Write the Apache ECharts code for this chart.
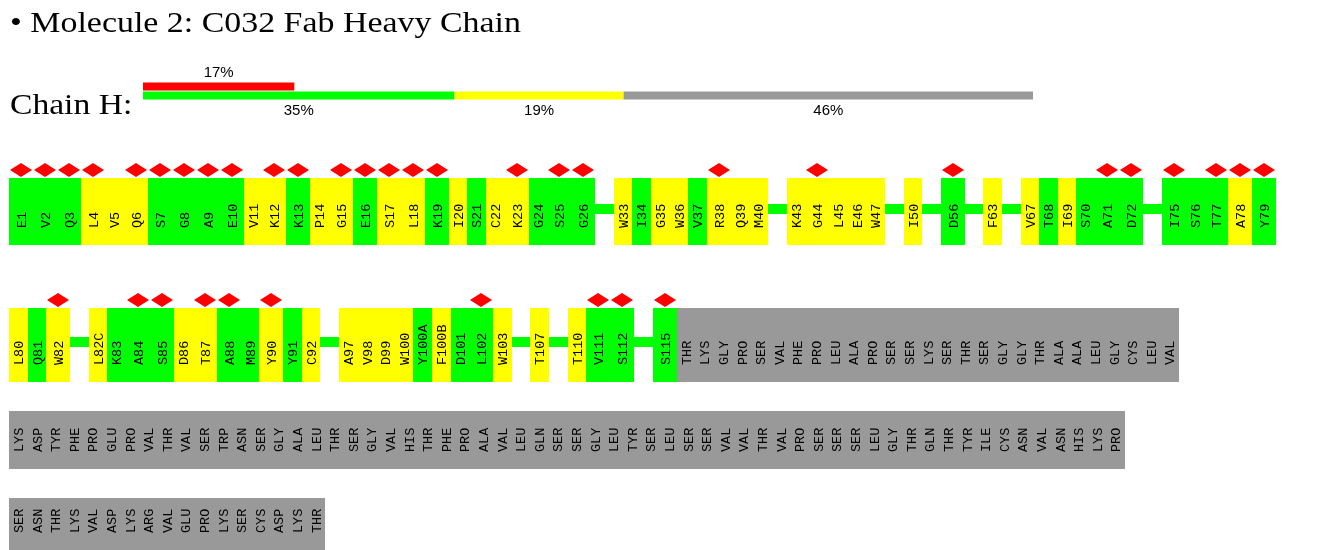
<!DOCTYPE html>
<html><head><meta charset="utf-8">
<script src="https://cdn.jsdelivr.net/npm/echarts@6/dist/echarts.min.js"></script>
<style>html,body{margin:0;padding:0;background:#fff}#c{width:1340px;height:550px}</style>
</head><body><div id="c"></div>
<script>
// ---------- DATA ----------
const titleText = '\u2022 Molecule 2: C032 Fab Heavy Chain';
const chainText = 'Chain H:';

// quality summary bar (percent of residues)
const summaryCategories = ['outliers', 'quality'];
const outlierPct = 17;
const goodPct = 35;
const fairPct = 19;
const missingPct = 46;

// residue rows: '' label = sequence gap connector
// quality codes: G = green, Y = yellow, N = not modelled (grey), - = gap
// outlier flags: 1 = red diamond
const row1Labels = ['E1','V2','Q3','L4','V5','Q6','S7','G8','A9','E10','V11','K12','K13','P14','G15','E16','S17','L18','K19','I20','S21','C22','K23','G24','S25','G26','','W33','I34','G35','W36','V37','R38','Q39','M40','','K43','G44','L45','E46','W47','','I50','','D56','','F63','','V67','T68','I69','S70','A71','D72','','I75','S76','T77','A78','Y79'];
const row1Quality = 'GGGYYYGGGGYYGYYGYYGYGYYGGG-YGYYGYYY-YYYYY-Y-G-Y-YGYGGG-GGGYG';
const row1Outliers = '11110111110110111110001011' + '0' + '00000100' + '0' + '01000' + '0' + '0' + '0' + '1' + '0' + '0' + '0' + '000011' + '0' + '10111';

const row2Labels = ['L80','Q81','W82','','L82C','K83','A84','S85','D86','T87','A88','M89','Y90','Y91','C92','','A97','V98','D99','W100','Y100A','F100B','D101','L102','W103','','T107','','T110','V111','S112','','S115','THR','LYS','GLY','PRO','SER','VAL','PHE','PRO','LEU','ALA','PRO','SER','SER','LYS','SER','THR','SER','GLY','GLY','THR','ALA','ALA','LEU','GLY','CYS','LEU','VAL'];
const row2Quality = 'YGY-YGGGYYGGYGY-YYYYGYGGY-Y-YGG-G' + 'NNNNNNNNNNNNNNNNNNNNNNNNNNN';
const row2Outliers = '001' + '0' + '00110110100' + '0' + '000000010' + '0' + '0' + '0' + '011' + '0' + '1' + '000000000000000000000000000';

const row3Labels = ['LYS','ASP','TYR','PHE','PRO','GLU','PRO','VAL','THR','VAL','SER','TRP','ASN','SER','GLY','ALA','LEU','THR','SER','GLY','VAL','HIS','THR','PHE','PRO','ALA','VAL','LEU','GLN','SER','SER','GLY','LEU','TYR','SER','LEU','SER','SER','VAL','VAL','THR','VAL','PRO','SER','SER','SER','LEU','GLY','THR','GLN','THR','TYR','ILE','CYS','ASN','VAL','ASN','HIS','LYS','PRO'];
const row3Quality = 'NNNNNNNNNNNNNNNNNNNNNNNNNNNNNNNNNNNNNNNNNNNNNNNNNNNNNNNNNNNN';
const row3Outliers = '000000000000000000000000000000000000000000000000000000000000';

const row4Labels = ['SER','ASN','THR','LYS','VAL','ASP','LYS','ARG','VAL','GLU','PRO','LYS','SER','CYS','ASP','LYS','THR'];
const row4Quality = 'NNNNNNNNNNNNNNNNN';
const row4Outliers = '00000000000000000';

// ---------- STYLE / LAYOUT ----------
const COLORS = { G: '#00ff00', Y: '#ffff00', N: '#999999', R: '#ff0000' };
const SLOT_PX = 18.6;
const OUTLIER_SLOT = 24 / SLOT_PX;   // residues with a diamond get a wider cell
const ROW_LEFT = 9;
const ROW_UNITS = 70;
const ROW_LAYOUT = [
  { top: 178, height: 67 },
  { top: 308, height: 74 },
  { top: 411, height: 58 },
  { top: 498, height: 58 }
];
const LABEL_FONT = '13.5px "Liberation Mono", "DejaVu Sans Mono", monospace';

const rows = [
  [row1Labels, row1Quality, row1Outliers],
  [row2Labels, row2Quality, row2Outliers],
  [row3Labels, row3Quality, row3Outliers],
  [row4Labels, row4Quality, row4Outliers]
];

function buildRow(labels, quality, outliers) {
  let pos = 0;
  const out = [];
  for (let i = 0; i < labels.length; i++) {
    const isOut = outliers[i] === '1';
    const w = isOut ? OUTLIER_SLOT : 1;
    out.push({ start: pos, end: pos + w, label: labels[i], quality: quality[i], outlier: isOut });
    pos += w;
  }
  return out;
}

function makeRenderer(rowData) {
  return function (params, api) {
    const d = rowData[params.dataIndex];
    const a = api.coord([d.start, 1]);
    const b = api.coord([d.end, 0]);
    const L = Math.round(a[0]), R = Math.round(b[0]);
    const T = Math.round(a[1]), B = Math.round(b[1]);
    const cx = (L + R) / 2;
    const children = [];
    if (d.quality === '-') {
      const cy = (T + B) / 2 - 3;
      children.push({ type: 'rect', shape: { x: L, y: Math.round(cy - 5), width: R - L, height: 10 }, style: { fill: COLORS.G } });
    } else {
      children.push({ type: 'rect', shape: { x: L, y: T, width: R - L, height: B - T }, style: { fill: COLORS[d.quality] } });
      children.push({ type: 'text', x: cx + 1, y: B - 17, rotation: Math.PI / 2,
        style: { text: d.label, font: LABEL_FONT, fill: '#000', align: 'left', verticalAlign: 'middle' } });
    }
    if (d.outlier) {
      children.push({ type: 'polygon', shape: { points: [[cx - 11, T - 8], [cx, T - 15], [cx + 11, T - 8], [cx, T - 1]] },
        style: { fill: COLORS.R } });
    }
    return { type: 'group', children: children };
  };
}

const grids = [{ left: 143, top: 82, width: 890, height: 18 }];
const xAxes = [{ type: 'value', gridIndex: 0, min: 0, max: 100, show: false }];
const yAxes = [{ type: 'category', gridIndex: 0, data: summaryCategories, inverse: true, show: false }];
const series = [];

const barLabelFont = { fontFamily: '"Liberation Sans", Arial, sans-serif', fontSize: 15, color: '#000' };
series.push({ type: 'bar', xAxisIndex: 0, yAxisIndex: 0, stack: 'q', barWidth: 8, silent: true,
  itemStyle: { color: COLORS.R }, data: [outlierPct, '-'],
  label: Object.assign({ show: true, position: 'top', distance: 2, formatter: '{c}%' }, barLabelFont) });
[[goodPct, COLORS.G], [fairPct, COLORS.Y], [missingPct, COLORS.N]].forEach(function (p) {
  series.push({ type: 'bar', xAxisIndex: 0, yAxisIndex: 0, stack: 'q', barWidth: 8, silent: true,
    itemStyle: { color: p[1] }, data: ['-', p[0]],
    label: Object.assign({ show: true, position: 'bottom', distance: 4, formatter: '{c}%' }, barLabelFont) });
});

rows.forEach(function (r, i) {
  const rowData = buildRow(r[0], r[1], r[2]);
  const gi = i + 1;
  grids.push({ left: ROW_LEFT, top: ROW_LAYOUT[i].top, width: ROW_UNITS * SLOT_PX, height: ROW_LAYOUT[i].height });
  xAxes.push({ type: 'value', gridIndex: gi, min: 0, max: ROW_UNITS, show: false });
  yAxes.push({ type: 'value', gridIndex: gi, min: 0, max: 1, show: false });
  series.push({ type: 'custom', xAxisIndex: gi, yAxisIndex: gi, silent: true, clip: false,
    renderItem: makeRenderer(rowData),
    encode: { x: [0, 1] },
    data: rowData.map(function (d) { return [d.start, d.end]; }) });
});

const chart = echarts.init(document.getElementById('c'));
chart.setOption({
  animation: false,
  backgroundColor: '#ffffff',
  grid: grids, xAxis: xAxes, yAxis: yAxes, series: series,
  graphic: [
    { type: 'text', x: 10, y: 24, scaleX: 1.13, silent: true,
      style: { text: titleText, font: '30px "Liberation Serif", "DejaVu Serif", serif', fill: '#000', textVerticalAlign: 'middle', verticalAlign: 'middle' } },
    { type: 'text', x: 10, y: 106, scaleX: 1.12, silent: true,
      style: { text: chainText, font: '30px "Liberation Serif", "DejaVu Serif", serif', fill: '#000', textVerticalAlign: 'middle', verticalAlign: 'middle' } }
  ]
});
</script>
</body></html>
